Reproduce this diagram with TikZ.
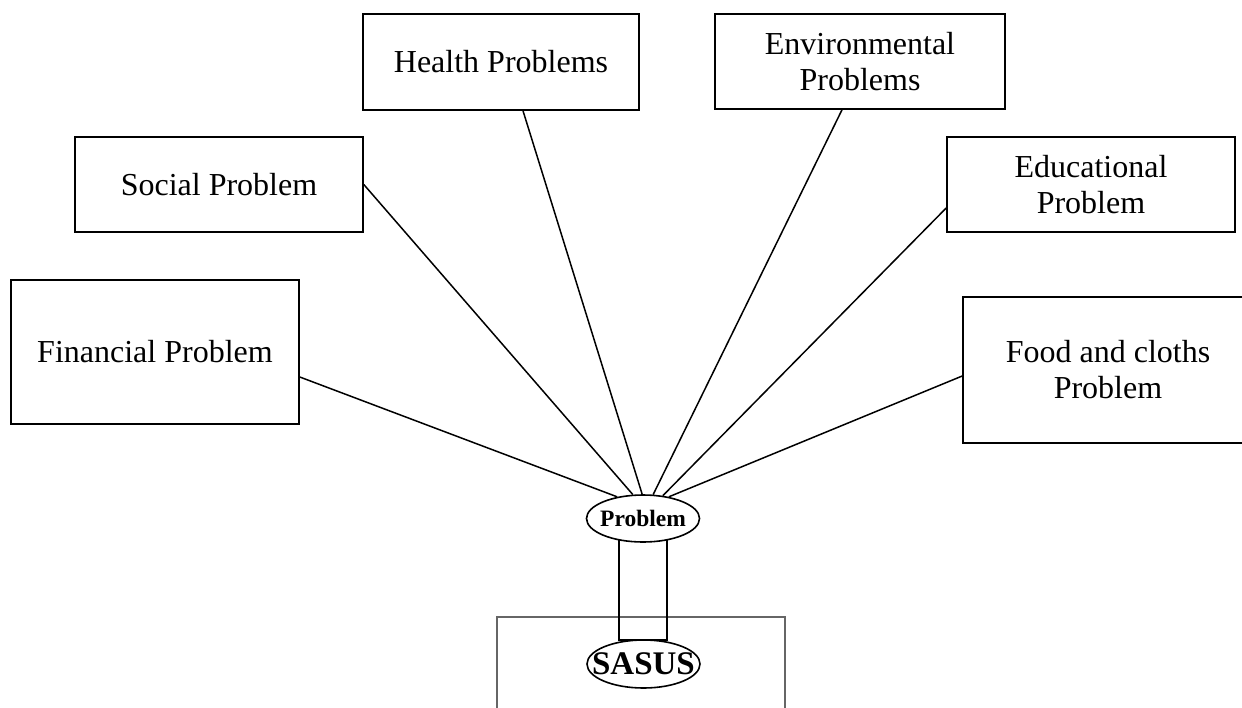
\documentclass[tikz,border=0pt]{standalone}
\usepackage{fontspec}
\setmainfont{Liberation Serif}
\usetikzlibrary{shapes.geometric,calc}

\tikzset{
  topic/.style={draw, rectangle, line width=1.6pt, inner sep=0pt, align=center,
    font={\fontsize{32}{36}\selectfont}},
  spoke/.style={line width=1.5pt},
  oval/.style={draw, ellipse, line width=1.6pt, inner sep=0pt, fill=white},
}

\begin{document}
\begin{tikzpicture}[x=1pt, y=-1pt]
  \clip (0,0) rectangle (1242,707);

  % problem categories
  \node[topic, minimum width=288, minimum height=144] (fin)  at (155,352)    {Financial Problem};
  \node[topic, minimum width=288, minimum height=95]  (soc)  at (219,184.5)  {Social Problem};
  \node[topic, minimum width=276, minimum height=96]  (hea)  at (501,62)     {Health Problems};
  \node[topic, minimum width=290, minimum height=95]  (env)  at (860,61.5)   {Environmental\\Problems};
  \node[topic, minimum width=288, minimum height=95]  (edu)  at (1091,184.5) {Educational\\Problem};
  \node[topic, minimum width=290, minimum height=146] (food) at (1108,370)   {Food and cloths\\Problem};

  % organisation box, open below the frame
  \node[draw=black!60, line width=1.2pt, rectangle, minimum width=288, minimum height=140]
    (base) at (641,687) {};

  % stem joining the two ovals
  \node[draw, rectangle, line width=1.6pt, minimum width=48, minimum height=121, inner sep=0pt]
    (stem) at (643,579.5) {};

  % ovals keep a fixed size; their words are set as centred labels
  \node[oval, minimum width=113, minimum height=47,
        label={[inner sep=0pt, font={\bfseries\fontsize{23.5}{26}\selectfont}]center:Problem}]
    (prob) at (643,518.5) {};
  \node[oval, minimum width=113, minimum height=48,
        label={[inner sep=0pt, font={\bfseries\fontsize{33}{35}\selectfont}]center:SASUS}]
    (sasus) at (643.5,664) {};

  % spokes from each category to the central oval
  \draw[spoke] ($(fin.east)+(0,25)$)   -- (prob.140);
  \draw[spoke] (soc.east)              -- (prob.113);
  \draw[spoke] ($(hea.south)+(22,0)$)  -- (prob.92);
  \draw[spoke] ($(env.south)+(-18,0)$) -- (prob.67);
  \draw[spoke] ($(edu.west)+(0,23.5)$) -- (prob.49);
  \draw[spoke] ($(food.west)+(0,6)$)   -- (prob.40);
\end{tikzpicture}
\end{document}
